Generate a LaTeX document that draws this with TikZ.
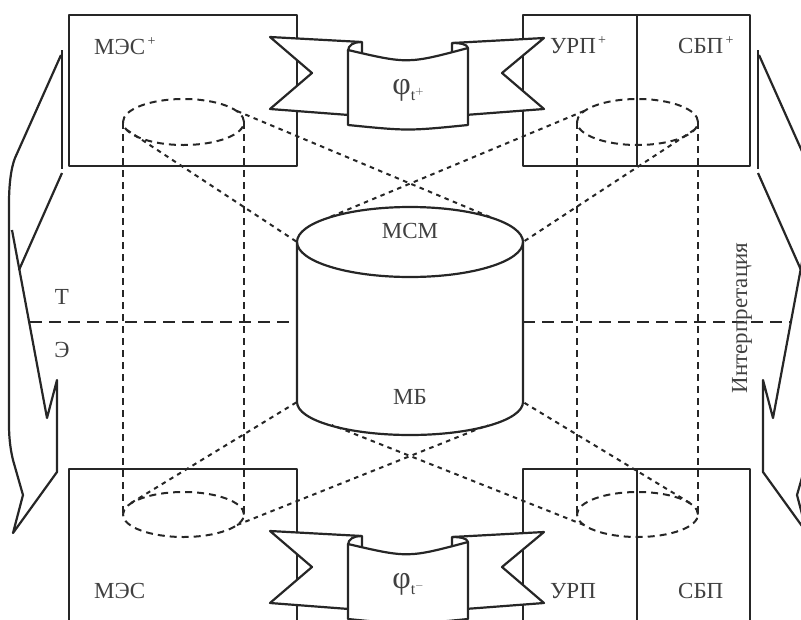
\documentclass[tikz,border=0pt]{standalone}
\usepackage{fontspec}
\setmainfont{Liberation Serif}
\newcommand\plusup{\raisebox{9pt}{\fontsize{14}{14}\selectfont\,+}}
\begin{document}
\begin{tikzpicture}[x=1pt,y=-1pt,line join=round,
  solidline/.style={draw=black!85, line width=2.2pt},
  longdash/.style={draw=black!85, line width=2pt, dash pattern=on 12pt off 7pt},
  middash/.style={draw=black!85, line width=2pt, dash pattern=on 7pt off 5pt},
  dotdash/.style={draw=black!85, line width=2pt, dash pattern=on 4.5pt off 4.5pt},
  lbl/.style={text=black!75, font=\fontsize{23}{23}\selectfont, inner sep=0pt},
]
\useasboundingbox (0,0) rectangle (801,619);
\clip (0,0) rectangle (801,619);

% boxes
\draw[solidline] (69,15) rectangle (297,166);
\draw[solidline] (523,15) rectangle (750,166);
\draw[solidline] (637,15) -- (637,166);
\draw[solidline] (69,640) -- (69,469) -- (297,469) -- (297,640);
\draw[solidline] (523,640) -- (523,469) -- (750,469) -- (750,640);
\draw[solidline] (637,469) -- (637,640);

% dashed ellipses and verticals
\draw[middash] (183.5,122) ellipse [x radius=60.5pt, y radius=23pt];
\draw[middash] (637.5,122) ellipse [x radius=60.5pt, y radius=23pt];
\draw[middash] (183.5,514.5) ellipse [x radius=60.5pt, y radius=22.5pt];
\draw[middash] (637.5,514.5) ellipse [x radius=60.5pt, y radius=22.5pt];
\draw[middash] (123,122) -- (123,514.5);
\draw[middash] (244,122) -- (244,514.5);
\draw[middash] (577,122) -- (577,514.5);
\draw[middash] (698,122) -- (698,514.5);

% horizontal T/E line
\draw[longdash] (30,322) -- (297,322);
\draw[longdash] (523,322) -- (790,322);

% diagonals
\draw[dotdash] (237,111) -- (490,217);
\draw[dotdash] (127,130) -- (297,242);
\draw[dotdash] (584,111) -- (330,217);
\draw[dotdash] (694,130) -- (523,242);
\draw[dotdash] (131,503) -- (297,402);
\draw[dotdash] (237,525) -- (488,425);
\draw[dotdash] (690,503) -- (523,402);
\draw[dotdash] (584,525) -- (332,425);

% cylinder
\draw[solidline] (410,242) ellipse [x radius=113pt, y radius=35pt];
\draw[solidline] (297,242) -- (297,402) arc[start angle=180, end angle=360, x radius=113pt, y radius=33pt] -- (523,242);

% banners
\foreach \dy/\sgn in {0/+,494/-}{
\begin{scope}[shift={(0,\dy)}]
\draw[solidline, fill=white] (270,37) -- (362,42) -- (362,116) -- (270,109) -- (312,73) -- cycle;
\draw[solidline, fill=white] (544,38) -- (452,43) -- (452,116) -- (544,109) -- (502,73) -- cycle;
\draw[solidline, fill=white] (348,50) .. controls (408,64) .. (468,48) -- (468,125) .. controls (408,131) .. (348,125) -- cycle;
\draw[solidline] (348,51) .. controls (348,45) and (354,42) .. (361,42);
\draw[solidline] (468,48) .. controls (467,44) and (460,43) .. (453,43);
\node[lbl] (phi\dy) at (408,90) {\fontsize{32}{32}\selectfont φ\raisebox{-6pt}{\fontsize{16}{16}\selectfont t\raisebox{6pt}{\fontsize{11}{11}\selectfont $\sgn$}}};
\end{scope}}

% left arrow
\draw[solidline] (62,50) -- (62,169);
\draw[solidline] (61,55) -- (15,158) .. controls (11,168) and (9,185) .. (9,203) -- (9,425) .. controls (9,440) and (11,452) .. (13,460) -- (23,495) -- (13,533) -- (57,472) -- (57,380) -- (47,418) -- (12,230);
\draw[solidline] (62,173) -- (19,270);
% right arrow
\draw[solidline] (758,50) -- (758,169);
\draw[solidline] (759,55) -- (805,158) .. controls (809,168) and (811,185) .. (811,203) -- (811,425) .. controls (811,440) and (809,452) .. (807,460) -- (797,495) -- (807,533) -- (763,472) -- (763,380) -- (773,418) -- (808,230);
\draw[solidline] (758,173) -- (801,270);

% labels
\node[lbl, anchor=base west] (mes1) at (94,54) {МЭС\plusup};
\node[lbl, anchor=base west] (urp1) at (550,53) {УРП\plusup};
\node[lbl, anchor=base west] (sbp1) at (678,53) {СБП\plusup};
\node[lbl, anchor=base west] (mes2) at (94,598) {МЭС};
\node[lbl, anchor=base west] (urp2) at (550,598) {УРП};
\node[lbl, anchor=base west] (sbp2) at (678,598) {СБП};
\node[lbl] (msm) at (410,231) {МСМ};
\node[lbl] (mb) at (410,397) {МБ};
\node[lbl] (tt) at (62,297) {Т};
\node[lbl] (ee) at (62,350) {Э};
\node[lbl, rotate=90] (interp) at (742,318) {Интерпретация};
\end{tikzpicture}
\end{document}
